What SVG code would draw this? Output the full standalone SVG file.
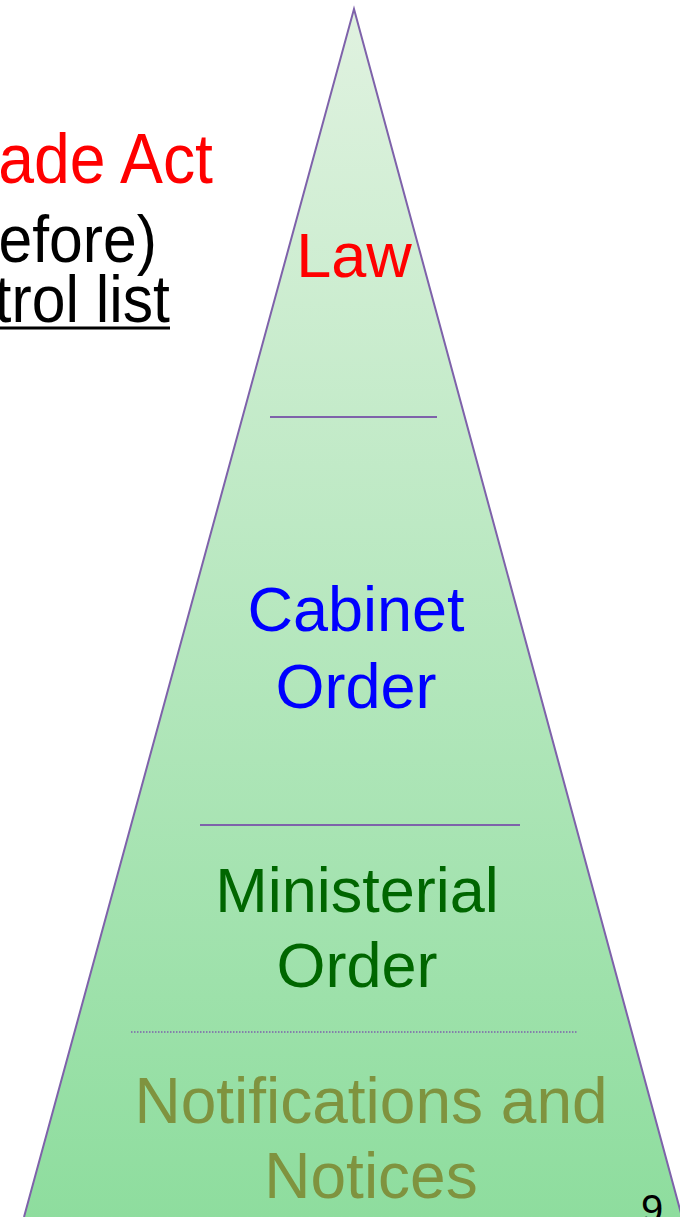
<svg xmlns="http://www.w3.org/2000/svg" width="680" height="1217" viewBox="0 0 680 1217">
<defs>
<linearGradient id="g" x1="0" y1="9" x2="0" y2="1217" gradientUnits="userSpaceOnUse">
<stop offset="0" stop-color="#e0f2e0"/>
<stop offset="1" stop-color="#8edd9e"/>
</linearGradient>
<style>
.t{font-family:"Liberation Sans",Arial,sans-serif;font-size:63px;text-anchor:middle}
.l{font-family:"Liberation Sans",Arial,sans-serif;font-size:66px;text-anchor:end}
.sep{stroke:#7e62aa;stroke-width:2;fill:none}
</style>
</defs>
<rect width="680" height="1217" fill="#ffffff"/>
<g id="left-text">
<text class="l" transform="translate(213,183) scale(0.92,1)" x="0" y="0" fill="#ff0000" style="font-size:70px">ade Act</text>
<text class="l" transform="translate(157,262) scale(0.92,1)" x="0" y="0" fill="#000000">efore)</text>
<text class="l" transform="translate(170,322) scale(0.92,1)" x="0" y="0" fill="#000000">trol list</text>
<line x1="0" y1="328" x2="170" y2="328" stroke="#000000" stroke-width="3"/>
</g>
<g id="pyramid">
<polygon points="354,9 24,1217 682,1217" fill="url(#g)"/>
<polyline points="24,1217 354,9 682,1217" class="sep"/>
</g>
<g id="connectors">
<line class="sep" x1="270" y1="417" x2="437" y2="417"/>
<line class="sep" x1="200" y1="825" x2="520" y2="825"/>
<line x1="131" y1="1032" x2="577" y2="1032" stroke="#7e62aa" stroke-width="1.5" stroke-dasharray="1.5 1.5"/>
</g>
<g id="law"><text class="t" x="354" y="277" fill="#ff0000">Law</text></g>
<g id="cabinet"><text class="t" x="356" y="631" fill="#0000ff">Cabinet</text><text class="t" x="356" y="708" fill="#0000ff">Order</text></g>
<g id="ministerial"><text class="t" x="357" y="912" fill="#006600">Ministerial</text><text class="t" x="357" y="987" fill="#006600">Order</text></g>
<g id="notifications"><text class="t" x="371" y="1123" fill="#7f933f" style="font-size:64px">Notifications and</text><text class="t" x="371" y="1198" fill="#7f933f" style="font-size:64px">Notices</text></g>
<g id="page"><text x="652" y="1223" font-family="Liberation Sans,Arial,sans-serif" font-size="40" text-anchor="middle" fill="#000000">9</text></g>
</svg>
